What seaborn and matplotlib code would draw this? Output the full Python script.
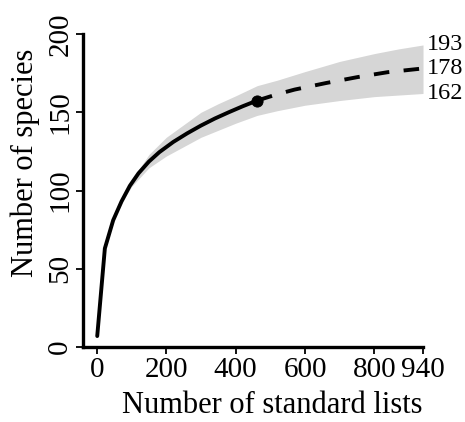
import numpy as np
import pandas as pd
import matplotlib
matplotlib.use("Agg")
import matplotlib.pyplot as plt
import seaborn as sns

# rarefaction part (observed, solid)
rare_x = [1, 23, 47, 71, 95, 120, 150, 180, 220, 260, 300, 340, 380, 420, 462]
rare_y = [7, 63, 81, 93, 103, 111, 118.5, 124.5, 131, 136.5, 141.5, 146, 150, 153.8, 157.5]

# extrapolation part (dashed)
extra_x = [462, 520, 570, 661, 752, 838, 940]
extra_y = [157.5, 161.5, 164.5, 168.7, 172.5, 175.6, 178]

# confidence band
band_x = [60, 100, 150, 200, 250, 300, 350, 400, 462, 520, 600, 700, 800, 870, 940]
band_lo = [88, 102.5, 114.5, 122, 128, 134, 138.5, 143, 148, 151, 154.5, 157.5, 160, 161, 162]
band_hi = [88, 106.5, 123, 134, 142, 150, 155.5, 160.5, 167, 170.5, 176, 182.5, 187.5, 190.5, 193]

# reference sample and end labels
ref_x = [462]
ref_y = [157.5]
end_labels = ["193", "178", "162"]
end_vals = [193, 178, 162]

x_ticks = [0, 200, 400, 600, 800, 940]
y_ticks = [0, 50, 100, 150, 200]

sns.set_style("ticks", {"axes.edgecolor": "black", "text.color": "black",
                        "xtick.color": "black", "ytick.color": "black",
                        "axes.labelcolor": "black"})
plt.rcParams['font.family'] = ['Liberation Serif', 'DejaVu Serif']

fig = plt.figure(figsize=(4.65, 4.22), dpi=100)
ax = fig.add_axes([0.1785, 0.1777, 0.7312, 0.7417])

ax.fill_between(band_x, band_lo, band_hi, color="#d6d6d6", linewidth=0, zorder=1)

df_rare = pd.DataFrame({"x": rare_x, "y": rare_y})
df_extra = pd.DataFrame({"x": extra_x, "y": extra_y})
sns.lineplot(data=df_rare, x="x", y="y", color="black", linewidth=2.8, ax=ax, zorder=3)
sns.lineplot(data=df_extra, x="x", y="y", color="black", linewidth=2.8, ax=ax, zorder=3)
ax.lines[-1].set_dashes((4, 3.7))
sns.scatterplot(x=ref_x, y=ref_y, color="black", s=65, ax=ax, zorder=4, edgecolor="black")

for lab, v in zip(end_labels, end_vals):
    ax.annotate(lab, xy=(940, v), xytext=(3, 0), textcoords="offset points",
                ha="left", va="center", fontsize=17.5, annotation_clip=False)

ax.set_xlim(-40, 940)
ax.set_ylim(0, 200)
ax.set_xticks(x_ticks)
ax.set_yticks(y_ticks)
ax.set_xticklabels([str(t) for t in x_ticks], fontsize=21)
ax.set_yticklabels([str(t) for t in y_ticks], fontsize=21, rotation=90, va="center")

for side in ["top", "right"]:
    ax.spines[side].set_visible(False)
for side in ["left", "bottom"]:
    ax.spines[side].set_linewidth(2.4)
ax.spines["bottom"].set_bounds(-40, 940)
ax.tick_params(direction="out", length=5, width=1.3, color="black", pad=2)

ax.set_xlabel("Number of standard lists", fontsize=22)
ax.set_ylabel("Number of species", fontsize=22)
ax.xaxis.set_label_coords(0.557, -0.14)
ax.yaxis.set_label_coords(-0.127, 0.589)

fig.savefig("out.png", dpi=100)
